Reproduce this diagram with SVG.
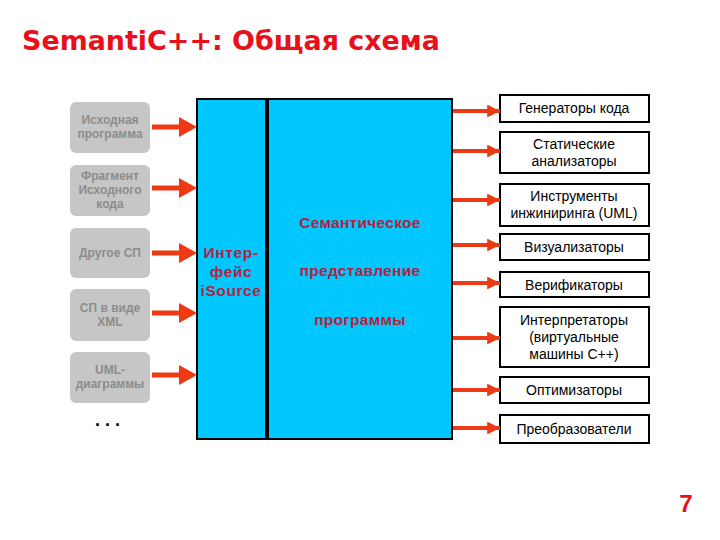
<svg xmlns="http://www.w3.org/2000/svg" width="720" height="540" viewBox="0 0 720 540">
<defs>
<style>
.src rect{fill:#c6c6c6;stroke:none}
.src text{font-family:"Liberation Sans",Arial,sans-serif;font-weight:bold;font-size:12px;fill:#8c8c8c;text-anchor:middle}
.tool rect{fill:#fff;stroke:#000;stroke-width:2}
.tool text{font-family:"Liberation Sans",Arial,sans-serif;font-size:14px;fill:#000;text-anchor:middle}
.core rect{fill:#00c8ff;stroke:#000;stroke-width:2}
.core text{font-family:"Liberation Sans",Arial,sans-serif;font-weight:bold;fill:#b8203c;text-anchor:middle}
.big{fill:#ee3a14}
.thin{stroke:#ee3a14;stroke-width:4;fill:none}
</style>
<marker id="ah" viewBox="0 0 10 10" refX="10" refY="5" markerWidth="4" markerHeight="3.2" markerUnits="strokeWidth" orient="auto">
<path d="M0,0 L10,5 L0,10 Z" fill="#ee3a14"/>
</marker>
</defs>
<rect width="720" height="540" fill="#fff"/>
<text x="22" y="50" font-family="'DejaVu Sans',sans-serif" font-weight="bold" font-size="27" fill="#e8101a" textLength="418" lengthAdjust="spacingAndGlyphs">SemantiC++: Общая схема</text>

<g id="src1" class="src"><rect x="70" y="102" width="80" height="51" rx="6"/><text x="110" y="124">Исходная</text><text x="110" y="138">программа</text></g>
<g id="src2" class="src"><rect x="70" y="165" width="80" height="51" rx="6"/><text x="110" y="180">Фрагмент</text><text x="110" y="194">Исходного</text><text x="110" y="208">кода</text></g>
<g id="src3" class="src"><rect x="70" y="228" width="80" height="50" rx="6"/><text x="110" y="257">Другое СП</text></g>
<g id="src4" class="src"><rect x="70" y="289" width="80" height="52" rx="6"/><text x="110" y="312">СП в виде</text><text x="110" y="326">XML</text></g>
<g id="src5" class="src"><rect x="70" y="352" width="80" height="51" rx="6"/><text x="110" y="374">UML-</text><text x="110" y="388">диаграммы</text></g>
<g id="dots"><text x="95" y="426" font-family="'Liberation Sans',Arial,sans-serif" font-weight="bold" font-size="18" fill="#000" letter-spacing="5">...</text></g>

<g id="iface" class="core"><rect x="197" y="99" width="69" height="340"/><text x="231" y="258" font-size="15.5" letter-spacing="0.6">Интер-</text><text x="231" y="277" font-size="15.5" letter-spacing="0.6">фейс</text><text x="231" y="296" font-size="15.5" letter-spacing="0.6">iSource</text></g>
<g id="sem" class="core"><rect x="268" y="99" width="184" height="340"/><text x="360" y="228" font-size="15.5" letter-spacing="0.3">Семантическое</text><text x="360" y="276" font-size="15.5" letter-spacing="0.3">представление</text><text x="360" y="325" font-size="15.5" letter-spacing="0.3">программы</text></g>

<g id="t1" class="tool"><rect x="500" y="95" width="149" height="27"/><text x="574" y="113">Генераторы кода</text></g>
<g id="t2" class="tool"><rect x="500" y="132" width="149" height="41"/><text x="574" y="149">Статические</text><text x="574" y="166">анализаторы</text></g>
<g id="t3" class="tool"><rect x="500" y="184" width="149" height="42"/><text x="574" y="201">Инструменты</text><text x="574" y="218">инжиниринга (UML)</text></g>
<g id="t4" class="tool"><rect x="500" y="234" width="149" height="26"/><text x="574" y="252">Визуализаторы</text></g>
<g id="t5" class="tool"><rect x="500" y="272" width="149" height="25"/><text x="574" y="290">Верификаторы</text></g>
<g id="t6" class="tool"><rect x="500" y="307" width="149" height="60"/><text x="574" y="325">Интерпретаторы</text><text x="574" y="342">(виртуальные</text><text x="574" y="359">машины С++)</text></g>
<g id="t7" class="tool"><rect x="500" y="377" width="149" height="26"/><text x="574" y="395">Оптимизаторы</text></g>
<g id="t8" class="tool"><rect x="500" y="415" width="149" height="28"/><text x="574" y="434">Преобразователи</text></g>

<g id="connectors">
<path class="big" d="M152,124.5 h27 v-7.5 l18,10 l-18,10 v-7.5 h-27 Z"/>
<path class="big" d="M152,185.5 h27 v-7.5 l18,10 l-18,10 v-7.5 h-27 Z"/>
<path class="big" d="M152,250.5 h27 v-7.5 l18,10 l-18,10 v-7.5 h-27 Z"/>
<path class="big" d="M152,310.5 h27 v-7.5 l18,10 l-18,10 v-7.5 h-27 Z"/>
<path class="big" d="M152,372.5 h27 v-7.5 l18,10 l-18,10 v-7.5 h-27 Z"/>
<line class="thin" x1="453" y1="111" x2="500" y2="111" marker-end="url(#ah)"/>
<line class="thin" x1="453" y1="151" x2="500" y2="151" marker-end="url(#ah)"/>
<line class="thin" x1="453" y1="200" x2="500" y2="200" marker-end="url(#ah)"/>
<line class="thin" x1="453" y1="245" x2="500" y2="245" marker-end="url(#ah)"/>
<line class="thin" x1="453" y1="283" x2="500" y2="283" marker-end="url(#ah)"/>
<line class="thin" x1="453" y1="338" x2="500" y2="338" marker-end="url(#ah)"/>
<line class="thin" x1="453" y1="390" x2="500" y2="390" marker-end="url(#ah)"/>
<line class="thin" x1="453" y1="428" x2="500" y2="428" marker-end="url(#ah)"/>
</g>

<text x="686" y="512" font-family="'Liberation Sans',Arial,sans-serif" font-weight="bold" font-size="24" fill="#e8101a" text-anchor="middle">7</text>
</svg>
